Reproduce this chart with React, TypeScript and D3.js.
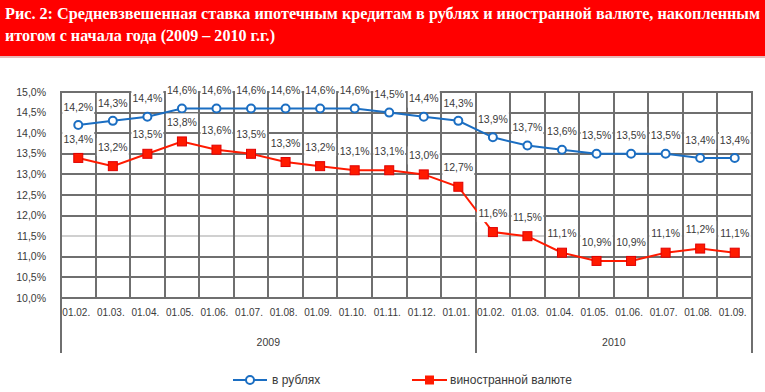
import React from 'react'
import * as d3 from 'd3'

// categories (months), two years
const months = ['01.02.', '01.03.', '01.04.', '01.05.', '01.06.', '01.07.', '01.08.', '01.09.', '01.10.', '01.11.', '01.12.', '01.01.',
  '01.02.', '01.03.', '01.04.', '01.05.', '01.06.', '01.07.', '01.08.', '01.09.']
const years = [{ label: '2009', count: 12 }, { label: '2010', count: 8 }]

const rub = [14.2, 14.3, 14.4, 14.6, 14.6, 14.6, 14.6, 14.6, 14.6, 14.5, 14.4, 14.3, 13.9, 13.7, 13.6, 13.5, 13.5, 13.5, 13.4, 13.4]
const fx = [13.4, 13.2, 13.5, 13.8, 13.6, 13.5, 13.3, 13.2, 13.1, 13.1, 13.0, 12.7, 11.6, 11.5, 11.1, 10.9, 10.9, 11.1, 11.2, 11.1]

const yTicks = [10, 10.5, 11, 11.5, 12, 12.5, 13, 13.5, 14, 14.5, 15]

const titleLine1 = 'Рис. 2: Средневзвешенная ставка ипотечным кредитам в рублях и иностранной валюте, накопленным'
const titleLine2 = 'итогом с начала года (2009 – 2010 г.г.)'
const legendRub = 'в рублях'
const legendFx = 'виностранной валюте'

const W = 765
const H = 392
const BLUE = '#1b6ec2'
const RED = '#ff1a00'
const GRID = '#6f6f6f'
const TXT = '#3a3a3a'

const pct = (v: number) => d3.format('.1f')(v).replace('.', ',') + '%'

export default function App() {
  const x = d3.scaleBand<number>().domain(d3.range(months.length)).range([61, 752]).padding(0)
  const y = d3.scaleLinear().domain([10, 15]).range([298, 92])
  const cx = (i: number) => (x(i) as number) + x.bandwidth() / 2

  const line = d3.line<number>().x((d, i) => cx(i)).y(d => y(d))

  // year divider positions
  let acc = 0
  const yearSpans = years.map(yr => {
    const x0 = x(acc) as number
    acc += yr.count
    const x1 = acc < months.length ? (x(acc) as number) : x.range()[1]
    return { ...yr, x0, x1 }
  })

  const labels = [
    ...rub.map((v, i) => ({ v, i, dy: -18 })),
    ...fx.map((v, i) => ({ v, i, dy: -19 })),
  ]

  return (
    <svg width={W} height={H} style={{ position: 'absolute', left: 0, top: 0, background: '#fff' }}
      fontFamily="'Liberation Sans', Arial, sans-serif">
      {/* header */}
      <rect x={0} y={0} width={W} height={56} fill="#ff0000" />
      <rect x={0} y={56} width={W} height={2} fill="#e6b8b8" />
      <text x={5} y={19} fill="#fff" fontFamily="'Liberation Serif', serif" fontWeight="bold" fontSize={16}
        textLength={755} lengthAdjust="spacingAndGlyphs">{titleLine1}</text>
      <text x={5} y={41} fill="#fff" fontFamily="'Liberation Serif', serif" fontWeight="bold" fontSize={16}
        textLength={270} lengthAdjust="spacingAndGlyphs">{titleLine2}</text>

      {/* horizontal grid */}
      {yTicks.map(t => (
        <line key={'h' + t} x1={61} x2={752} y1={Math.round(y(t))} y2={Math.round(y(t))}
          stroke={t === 11.5 ? '#d0d0d0' : GRID} strokeWidth={2} />
      ))}
      {/* vertical grid */}
      {d3.range(months.length + 1).map(i => {
        const xx = Math.round(i < months.length ? (x(i) as number) : x.range()[1])
        return <line key={'v' + i} x1={xx} x2={xx} y1={y(15) - 1} y2={y(10) + 1} stroke={GRID} strokeWidth={2} />
      })}
      {/* year dividers */}
      {[yearSpans[0].x0, ...yearSpans.map(s => s.x1)].map((xx, i) => (
        <line key={'d' + i} x1={Math.round(xx)} x2={Math.round(xx)} y1={y(10)} y2={353} stroke={GRID} strokeWidth={2} />
      ))}

      {/* y axis labels */}
      {yTicks.map(t => (
        <text key={'yl' + t} x={46} y={y(t)} dy="0.35em" textAnchor="end" fontSize={10.5} fill={TXT}>{pct(t)}</text>
      ))}
      {/* category labels */}
      {months.map((m, i) => (
        <text key={'c' + i} x={cx(i) - 2} y={316} textAnchor="middle" fontSize={10} fill={TXT}>{m}</text>
      ))}
      {yearSpans.map(s => (
        <text key={s.label} x={(s.x0 + s.x1) / 2} y={346} textAnchor="middle" fontSize={10.5} fill={TXT}>{s.label}</text>
      ))}

      {/* series */}
      <path d={line(rub) || ''} fill="none" stroke={BLUE} strokeWidth={2} />
      <path d={line(fx) || ''} fill="none" stroke={RED} strokeWidth={2} />
      {rub.map((v, i) => (
        <circle key={'r' + i} cx={cx(i)} cy={y(v)} r={4} fill="#fff" stroke={BLUE} strokeWidth={2} />
      ))}
      {fx.map((v, i) => (
        <rect key={'f' + i} x={cx(i) - 4.5} y={y(v) - 4.5} width={9} height={9} fill={RED} stroke="#e00000" strokeWidth={1} />
      ))}

      {/* data labels */}
      {labels.map((l, k) => (
        <g key={'l' + k}>
          <rect x={cx(l.i) - 16} y={y(l.v) + l.dy - 9} width={32} height={18} fill="#fff" />
          <text x={cx(l.i)} y={y(l.v) + l.dy} dy="0.35em" textAnchor="middle" fontSize={10.5} fill={TXT}>{pct(l.v)}</text>
        </g>
      ))}

      {/* legend */}
      <line x1={233} x2={267} y1={380} y2={380} stroke={BLUE} strokeWidth={2} />
      <circle cx={250} cy={380} r={4} fill="#fff" stroke={BLUE} strokeWidth={2} />
      <text x={272} y={380} dy="0.35em" fontSize={12} fill={TXT}>{legendRub}</text>
      <line x1={412} x2={447} y1={380} y2={380} stroke={RED} strokeWidth={2} />
      <rect x={425} y={375.5} width={9} height={9} fill={RED} />
      <text x={450} y={380} dy="0.35em" fontSize={12} fill={TXT}>{legendFx}</text>
    </svg>
  )
}
